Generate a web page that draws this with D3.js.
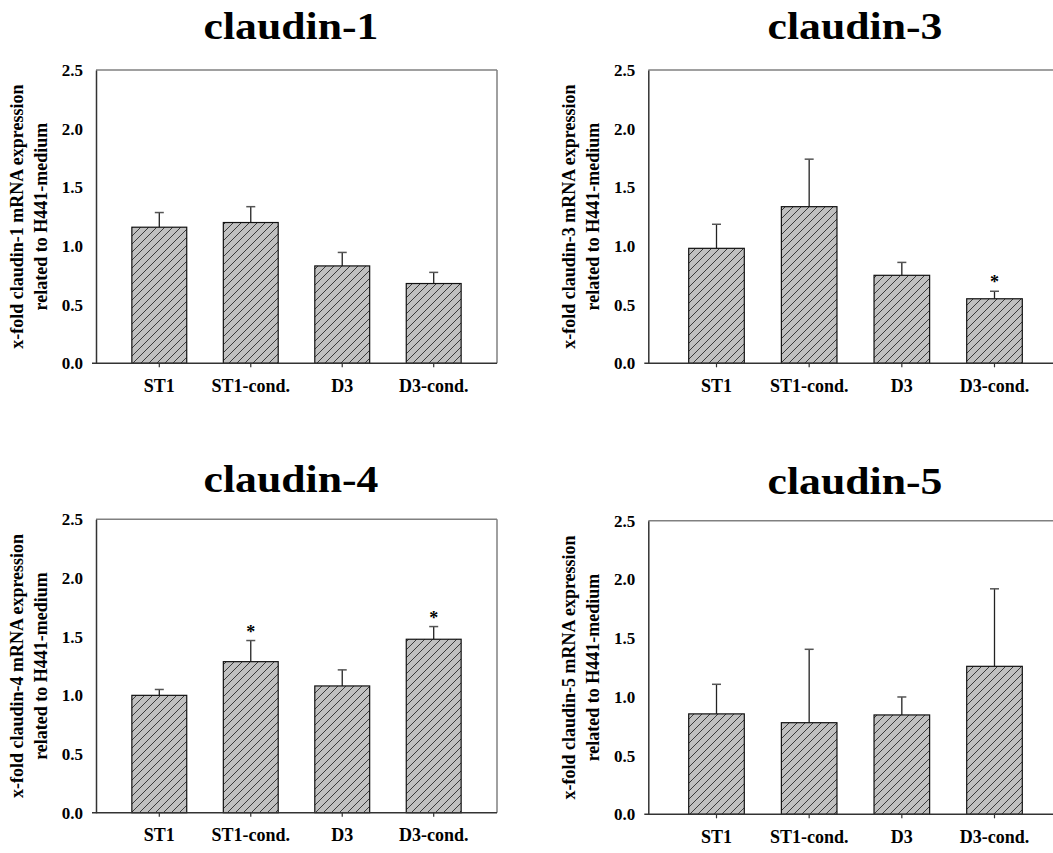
<!DOCTYPE html>
<html>
<head>
<meta charset="utf-8">
<script src="https://cdn.jsdelivr.net/npm/d3@7"></script>
<style>
  html, body { margin: 0; padding: 0; background: #fff; overflow: hidden; }
  svg { display: block; overflow: hidden; }
  text { font-family: "Liberation Serif", "Times New Roman", serif; font-weight: bold; fill: #000; }
</style>
</head>
<body>
<svg id="chart" width="1053" height="853"></svg>
<script>
// ---- data ----
const categories = ["ST1", "ST1-cond.", "D3", "D3-cond."];
const titles = ["claudin-1", "claudin-3", "claudin-4", "claudin-5"];
const yTicks = [0.0, 0.5, 1.0, 1.5, 2.0, 2.5];

const claudin1Means  = [1.16, 1.20, 0.83, 0.68];
const claudin1Errors = [0.125, 0.135, 0.115, 0.095];
const claudin1Sig    = [false, false, false, false];

const claudin3Means  = [0.98, 1.335, 0.75, 0.55];
const claudin3Errors = [0.205, 0.405, 0.11, 0.064];
const claudin3Sig    = [false, false, false, true];

const claudin4Means  = [1.00, 1.287, 1.08, 1.478];
const claudin4Errors = [0.05, 0.18, 0.137, 0.108];
const claudin4Sig    = [false, true, false, true];

const claudin5Means  = [0.855, 0.78, 0.846, 1.26];
const claudin5Errors = [0.252, 0.625, 0.153, 0.66];
const claudin5Sig    = [false, false, false, false];

const yLabelLine2 = "related to H441-medium";

// ---- layout (positions only) ----
const W = 1053;
const panels = [
  { title: titles[0], means: claudin1Means, errors: claudin1Errors, sig: claudin1Sig,
    left: 96, right: 497, top: 70, bottom: 363.3, po: 0.392, titleX: 291, titleY: 39 },
  { title: titles[1], means: claudin3Means, errors: claudin3Errors, sig: claudin3Sig,
    left: 648.3, right: 1062.7, top: 70, bottom: 363.3, po: 0.436, titleX: 855, titleY: 39 },
  { title: titles[2], means: claudin4Means, errors: claudin4Errors, sig: claudin4Sig,
    left: 96, right: 497, top: 519.3, bottom: 812.7, po: 0.392, titleX: 291, titleY: 492 },
  { title: titles[3], means: claudin5Means, errors: claudin5Errors, sig: claudin5Sig,
    left: 648.3, right: 1062.7, top: 520.7, bottom: 814.3, po: 0.436, titleX: 855, titleY: 494 }
];

const svg = d3.select("#chart");

// hatch pattern
const defs = svg.append("defs");
const pat = defs.append("pattern")
  .attr("id", "hatch")
  .attr("patternUnits", "userSpaceOnUse")
  .attr("width", 8).attr("height", 8);
pat.append("rect").attr("width", 8).attr("height", 8).attr("fill", "#c0c0c0");
pat.append("path")
  .attr("d", "M-2,2 L2,-2 M0,8 L8,0 M6,10 L10,6")
  .attr("stroke", "#3a3a3a").attr("stroke-width", 1);

panels.forEach(p => {
  const g = svg.append("g");
  const x = d3.scaleBand().domain(categories)
    .range([p.left, p.right]).paddingInner(0.4).paddingOuter(p.po);
  const y = d3.scaleLinear().domain([0, 2.5]).range([p.bottom, p.top]);

  // frame top/right
  g.append("line").attr("x1", p.left).attr("x2", Math.min(p.right, W))
    .attr("y1", y(2.5)).attr("y2", y(2.5))
    .attr("stroke", "#808080").attr("stroke-width", 1.5);
  if (p.right < W) {
    g.append("line").attr("x1", p.right).attr("x2", p.right)
      .attr("y1", y(2.5)).attr("y2", y(0))
      .attr("stroke", "#808080").attr("stroke-width", 1.5);
  }

  const data = categories.map((c, i) => ({ c, m: p.means[i], e: p.errors[i], s: p.sig[i] }));

  // error bars
  const eb = g.selectAll(".eb").data(data).enter().append("g");
  eb.append("line")
    .attr("x1", d => x(d.c) + x.bandwidth() / 2).attr("x2", d => x(d.c) + x.bandwidth() / 2)
    .attr("y1", d => y(d.m)).attr("y2", d => y(d.m + d.e))
    .attr("stroke", "#222").attr("stroke-width", 1.3);
  eb.append("line")
    .attr("x1", d => x(d.c) + x.bandwidth() / 2 - 4.5).attr("x2", d => x(d.c) + x.bandwidth() / 2 + 4.5)
    .attr("y1", d => y(d.m + d.e)).attr("y2", d => y(d.m + d.e))
    .attr("stroke", "#555").attr("stroke-width", 1.5);

  // bars
  g.selectAll(".bar").data(data).enter().append("rect")
    .attr("x", d => x(d.c)).attr("width", x.bandwidth())
    .attr("y", d => y(d.m)).attr("height", d => y(0) - y(d.m))
    .attr("fill", "url(#hatch)")
    .attr("stroke", "#111").attr("stroke-width", 1.2);

  // significance stars
  g.selectAll(".star").data(data.filter(d => d.s)).enter().append("text")
    .attr("x", d => x(d.c) + x.bandwidth() / 2)
    .attr("y", d => y(d.m + d.e) - 3)
    .attr("text-anchor", "middle").attr("font-size", 18)
    .text("*");

  // y axis
  const yAxis = d3.axisLeft(y).tickValues(yTicks).tickFormat(d3.format(".1f"))
    .tickSize(0).tickPadding(13);
  const ya = g.append("g").attr("transform", `translate(${p.left},0)`).call(yAxis);
  ya.select(".domain").attr("stroke", "#333").attr("stroke-width", 1.5);
  ya.selectAll("text").attr("font-size", 17).attr("font-family", "Liberation Serif, Times New Roman, serif")
    .attr("font-weight", "bold").attr("fill", "#000");

  // x axis
  const xAxis = d3.axisBottom(x).tickSizeInner(4).tickSizeOuter(0).tickPadding(12);
  const xa = g.append("g").attr("transform", `translate(0,${p.bottom})`).call(xAxis);
  xa.select(".domain").attr("stroke", "#333").attr("stroke-width", 1.5)
    .attr("d", `M${p.left - 4},0H${Math.min(p.right, W)}`);
  xa.selectAll(".tick line").attr("stroke", "#333").attr("stroke-width", 1.2);
  xa.selectAll("text").attr("font-size", 18).attr("font-family", "Liberation Serif, Times New Roman, serif")
    .attr("font-weight", "bold").attr("fill", "#000");

  // y label
  const cy = (p.top + p.bottom) / 2;
  const lab = g.append("text")
    .attr("transform", `translate(${p.left - 73},${cy}) rotate(-90)`)
    .attr("text-anchor", "middle").attr("font-size", 18);
  lab.append("tspan").attr("x", 0).attr("y", 0)
    .text(`x-fold ${p.title} mRNA expression`);
  lab.append("tspan").attr("x", 0).attr("y", 24).text(yLabelLine2);

  // title
  g.append("text").attr("x", p.titleX).attr("y", p.titleY)
    .attr("text-anchor", "middle").attr("font-size", 37)
    .attr("textLength", 175).attr("lengthAdjust", "spacingAndGlyphs")
    .text(p.title);
});
</script>
</body>
</html>
